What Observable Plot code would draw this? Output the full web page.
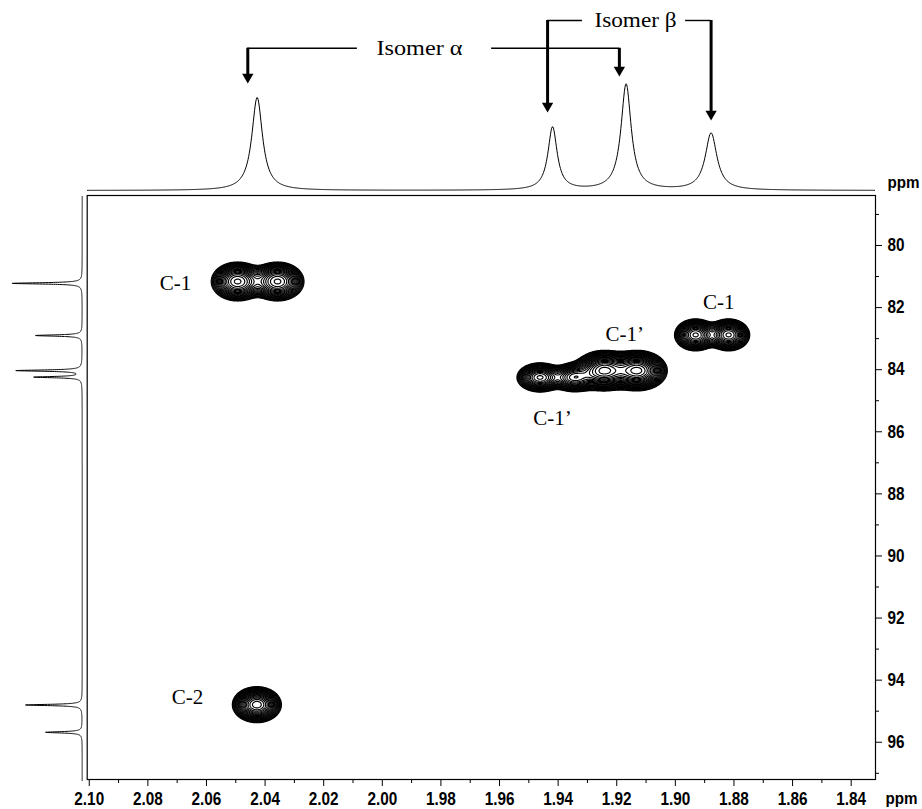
<!DOCTYPE html>
<html><head><meta charset="utf-8">
<script src="https://cdn.jsdelivr.net/npm/d3@7"></script>
<script src="https://cdn.jsdelivr.net/npm/@observablehq/plot@0.6"></script>
<style>
body{margin:0;background:#fff;}
#chart{position:relative;width:922px;height:809px;overflow:hidden;}
#chart svg{position:absolute;left:0;top:0;}
</style></head><body><div id="chart"></div>
<script>
// ---------------- data ----------------
// 1H axis (ppm, left -> right) and 13C axis (ppm, bottom -> top)
const xDomain = [2.1007, 1.8317];
const yDomain = [97.2, 78.39];
const xMajorTicks = [2.10, 2.08, 2.06, 2.04, 2.02, 2.00, 1.98, 1.96, 1.94, 1.92, 1.90, 1.88, 1.86, 1.84];
const xMinorTicks = [2.09, 2.07, 2.05, 2.03, 2.01, 1.99, 1.97, 1.95, 1.93, 1.91, 1.89, 1.87, 1.85];
const yMajorTicks = [80, 82, 84, 86, 88, 90, 92, 94, 96];
const yMinorTicks = [79, 81, 83, 85, 87, 89, 91, 93, 95, 97];
const axisUnit = "ppm";

// 1H projection (top): peak positions, relative heights, half widths
const hPeakPos = [2.0427, 1.9419, 1.9168, 1.8878];
const hPeakHeight = [0.877, 0.594, 1.0, 0.538];
const hPeakWidth = [0.0022, 0.0019, 0.0021, 0.0024];

// 13C projection (left): peak positions, relative heights
const cPeakPos = [81.22, 82.9, 84.03, 84.24, 94.8, 95.68];
const cPeakHeight = [1.0, 0.667, 0.939, 0.681, 0.81, 0.524];
const cPeakWidth = [0.025, 0.025, 0.025, 0.025, 0.025, 0.025];

// 2D cross peaks (components)
const crossH = [2.0494, 2.0357, 2.0428, 1.8931, 1.8818, 1.9462, 1.9345, 1.9244, 1.9129];
const crossC = [81.16, 81.16, 94.79, 82.88, 82.88, 84.25, 84.25, 84.03, 84.03];
const crossAmp = [1.0, 1.0, 1.2, 1.0, 1.0, 1.0, 0.9, 1.5, 1.5];
const crossSdH = [0.0040, 0.0040, 0.0036, 0.0032, 0.0032, 0.0035, 0.0035, 0.0042, 0.0042];
const crossSdC = [0.28, 0.28, 0.25, 0.23, 0.23, 0.21, 0.21, 0.27, 0.27];
const contourBase = 0.08, contourFactor = 1.14, contourCount = 24;

// peak labels
const labelText = ["C-1", "C-2", "C-1", "C-1\u2019", "C-1\u2019"];
const labelH = [2.0706, 2.0665, 1.8852, 1.9173, 1.9419];
const labelC = [81.21, 94.56, 81.84, 82.87, 85.57];

// isomer annotations (top)
const isoText = ["Isomer \u03b1", "Isomer \u03b2"];
const isoX = [1.9873, 1.9136];
const isoY = [1.342, 1.604];
const bracketX1 = [2.0459, 1.9627, 1.9436, 1.8965];
const bracketX2 = [2.0085, 1.9191, 1.9317, 1.8878];
const bracketY = [1.342, 1.342, 1.604, 1.604];
const arrowX = [2.0459, 1.9191, 1.9436, 1.8878];
const arrowTop = [1.342, 1.342, 1.604, 1.604];
const arrowTip = [1.009, 1.075, 0.736, 0.66];

// ---------------- build ----------------
(function () {
const axisFont = "'Liberation Sans', Arial, Helvetica, sans-serif";
const serif = "'Liberation Serif', 'Times New Roman', serif";
const W = 922, H = 809;
const mL = 86.7, mR = W - 875, mT = 195, mB = H - 779;

function lorentz(x, pos, h, w) {
  let s = 0;
  for (let i = 0; i < pos.length; i++) { const d = (x - pos[i]) / w[i]; s += h[i] / (1 + d * d); }
  return s;
}
const topData = d3.range(1.832, 2.1007, 0.0002).map(x => ({x, y: lorentz(x, hPeakPos, hPeakHeight, hPeakWidth)}));
const leftData = d3.range(78.42, 97.24, 0.002).map(y => ({y, x: lorentz(y, cPeakPos, cPeakHeight, cPeakWidth)}));

const crossValue = (x, y) => {
  let s = 0;
  for (let i = 0; i < crossH.length; i++) {
    const dx = (x - crossH[i]) / crossSdH[i], dy = (y - crossC[i]) / crossSdC[i];
    s += crossAmp[i] * Math.exp(-0.5 * (dx * dx + dy * dy));
  }
  return s;
};
const thresholds = d3.range(contourCount).map(i => contourBase * Math.pow(contourFactor, i));

const labels = labelText.map((t, i) => ({t, x: labelH[i], y: labelC[i]}));
const brackets = bracketX1.map((x1, i) => ({x1, x2: bracketX2[i], y: bracketY[i]}));
const arrows = arrowX.map((x, i) => ({x, top: arrowTop[i], tip: arrowTip[i]}));
const isoLabels = isoText.map((t, i) => ({t, x: isoX[i], y: isoY[i]}));

const axisText = {fontSize: 18, fontWeight: "bold", fontFamily: axisFont};
const unitText = {fontSize: 16.5, fontWeight: "bold", fontFamily: axisFont};

const mainPlot = Plot.plot({
  width: W, height: H,
  marginLeft: mL, marginRight: mR, marginTop: mT, marginBottom: mB,
  style: `background: transparent; overflow: visible; color: black; font-family: ${axisFont}; font-size: 18px; font-weight: bold;`,
  x: {domain: xDomain},
  y: {domain: yDomain},
  marks: [
    Plot.contour({x1: xDomain[1], x2: xDomain[0], y1: yDomain[1], y2: yDomain[0], value: crossValue,
      thresholds, fill: "none", stroke: "black", strokeWidth: 1.15, pixelSize: 0.5}),
    Plot.frame({stroke: "black", strokeWidth: 1.2}),
    Plot.axisX(xMajorTicks, {anchor: "bottom", tickSize: 7, tickPadding: 6, tickFormat: d3.format(".2f"), label: null, ...axisText}),
    Plot.axisX(xMinorTicks, {anchor: "bottom", tickSize: 4, tickFormat: () => "", label: null}),
    Plot.axisY(yMajorTicks, {anchor: "right", tickSize: 6, tickPadding: 6, tickFormat: d => String(d), label: null, ...axisText}),
    Plot.axisY(yMinorTicks, {anchor: "right", tickSize: 3, tickFormat: () => "", label: null}),
    Plot.text([axisUnit], {frameAnchor: "bottom-right", textAnchor: "start", lineAnchor: "middle", dx: 10, dy: 19, ...unitText}),
    Plot.text([axisUnit], {frameAnchor: "top-right", textAnchor: "start", lineAnchor: "middle", dx: 12, dy: -13, ...unitText}),
    Plot.text(labels, {x: "x", y: "y", text: "t", fontFamily: serif, fontSize: 21, fontWeight: "normal", fill: "black"})
  ]
});

const topPlot = Plot.plot({
  width: W, height: mT,
  marginLeft: mL, marginRight: mR, marginTop: 0, marginBottom: 5,
  style: "background: transparent; overflow: visible; color: black;",
  x: {domain: xDomain, axis: null},
  y: {domain: [0, 1.7925], axis: null},
  marks: [
    Plot.line(topData, {x: "x", y: "y", stroke: "black", strokeWidth: 1}),
    Plot.ruleY(brackets, {x1: "x1", x2: "x2", y: "y", stroke: "black", strokeWidth: 1.4}),
    Plot.ruleX(arrows, {x: "x", y1: "top", y2: "tip", insetBottom: 7, stroke: "black", strokeWidth: 3}),
    Plot.dot(arrows, {x: "x", y: "tip", symbol: "triangle", rotate: 180, r: 4.2, fill: "black", stroke: "none", dy: -6.5}),
    Plot.text(isoLabels, {x: "x", y: "y", text: "t", fontFamily: serif, fontSize: 21, fill: "black"})
  ]
});

const leftPlot = Plot.plot({
  width: 86, height: H,
  marginLeft: 11.7, marginRight: 4.3, marginTop: mT, marginBottom: mB,
  style: "background: transparent; overflow: visible; color: black;",
  x: {domain: [0, 1], reverse: true, axis: null},
  y: {domain: yDomain, axis: null},
  marks: [
    Plot.line(leftData, {x: "x", y: "y", stroke: "black", strokeWidth: 1})
  ]
});

document.getElementById("chart").append(mainPlot, leftPlot, topPlot);

// condensed look for the bold axis lettering (narrow Helvetica in the original)
mainPlot.querySelectorAll("text").forEach(t => {
  const s = t.textContent;
  const k = /^[\d.]+$/.test(s) ? 0.85 : s === axisUnit ? 0.92 : 0;
  if (k) {
    const len = t.getComputedTextLength();
    if (len > 0) { t.setAttribute("textLength", (len * k).toFixed(1)); t.setAttribute("lengthAdjust", "spacingAndGlyphs"); }
  }
});
// stretch the isomer captions to the original width
const isoWidths = {"Isomer \u03b1": 86, "Isomer \u03b2": 82};
topPlot.querySelectorAll("text").forEach(t => {
  const w = isoWidths[t.textContent];
  if (w) { t.setAttribute("textLength", w); t.setAttribute("lengthAdjust", "spacingAndGlyphs"); }
});
})();
</script></body></html>
